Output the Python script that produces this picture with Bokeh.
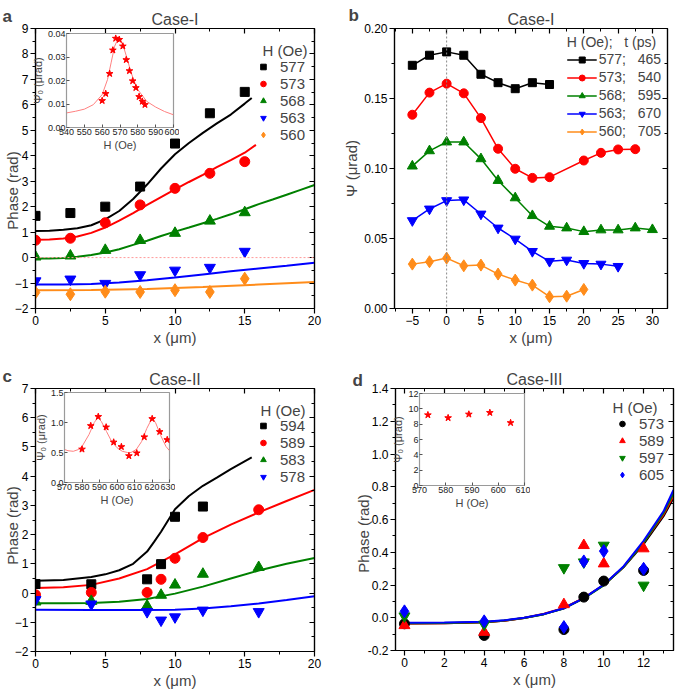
import math
from bokeh.plotting import figure
from bokeh.models import (GridBox, Column, Label, Legend, LegendItem, LinearAxis, Span,
                          FixedTicker, NumeralTickFormatter, Range1d, CustomJSTickFormatter)
from bokeh.embed import file_html
from bokeh.resources import INLINE

FONT = "Liberation Sans"
BLACK, RED, GREEN, BLUE, ORANGE = "#000000", "#FF0000", "#008000", "#0000FF", "#FF8C1A"
PAGE_W, PAGE_H = 675, 692

# ---------------- Panel a (Case-I, phase) ----------------
a_fields = ["577", "573", "568", "563", "560"]
a_x = [0, 2.5, 5, 7.5, 10, 12.5, 15]
a_577 = [1.64, 1.75, 2.0, 2.79, 4.48, 5.67, 6.51]
a_573 = [0.68, 0.76, 1.37, 2.07, 2.72, 3.31, 3.77]
a_568 = [0.03, 0.07, 0.29, 0.68, 0.96, 1.44, 1.77]
a_563 = [-0.92, -0.85, -1.02, -0.68, -0.50, -0.39, 0.24]
a_560 = [-1.37, -1.44, -1.34, -1.35, -1.28, -1.35, -0.83]

a_fit577_x = [0, 1, 2, 3, 4, 5, 6, 7, 8, 9, 10, 11, 12, 13, 14, 15, 15.5]
a_fit577_y = [1.04, 1.05, 1.09, 1.15, 1.27, 1.5, 1.83, 2.3, 2.87, 3.5, 4.06, 4.5, 4.9, 5.27, 5.62, 6.05, 6.27]
a_fit573_x = [0, 1, 2, 3, 4, 5, 6, 7, 8, 9, 10, 11, 12, 13, 14, 15, 15.8]
a_fit573_y = [0.7, 0.71, 0.75, 0.83, 0.97, 1.18, 1.45, 1.75, 2.07, 2.38, 2.68, 2.97, 3.25, 3.55, 3.83, 4.12, 4.43]
a_fit568_x = [0, 1, 2, 3, 4, 5, 6, 7, 8, 9, 10, 11, 12, 13, 14, 15, 16, 17, 18, 19, 20]
a_fit568_y = [-0.04, -0.04, -0.02, 0.03, 0.1, 0.2, 0.33, 0.5, 0.66, 0.85, 1.02, 1.18, 1.35, 1.52, 1.7, 1.9, 2.1, 2.28, 2.47, 2.66, 2.85]
a_fit563_x = [0, 2, 4, 6, 8, 10, 12, 14, 16, 18, 20]
a_fit563_y = [-1.06, -1.06, -1.04, -0.98, -0.89, -0.78, -0.66, -0.54, -0.43, -0.32, -0.2]
a_fit560_x = [0, 4, 8, 12, 16, 20]
a_fit560_y = [-1.28, -1.27, -1.23, -1.16, -1.06, -0.96]

# inset a
ia_H = [560, 562, 564.2, 566, 567.6, 569.6, 571.6, 573.5, 575.3, 577.1, 578.9, 580.7, 582.5, 584]
ia_psi = [0.0114, 0.0144, 0.0229, 0.0329, 0.0379, 0.0374, 0.0346, 0.0288, 0.0241, 0.0198, 0.0169, 0.0131, 0.0111, 0.0097]
ia_fit_H = [540, 545, 550, 555, 560, 563, 565, 567, 569, 570, 572, 574, 576, 578, 580, 585, 590, 595, 600]
ia_fit_psi = [0.0062, 0.0069, 0.0078, 0.0097, 0.014, 0.0204, 0.0275, 0.0346, 0.0379, 0.0377, 0.0343, 0.0293, 0.0239, 0.0196, 0.0161, 0.0111, 0.0087, 0.0068, 0.0054]

# ---------------- Panel b (Case-I, amplitude) ----------------
b_labels = ["577;\u00a0\u00a0\u00a0465", "573;\u00a0\u00a0\u00a0540", "568;\u00a0\u00a0\u00a0595",
            "563;\u00a0\u00a0\u00a0670", "560;\u00a0\u00a0\u00a0705"]
b_577_x = [-5, -2.5, 0, 2.5, 5, 7.5, 10, 12.5, 15]
b_577_y = [0.1737, 0.1809, 0.1833, 0.1809, 0.1673, 0.1613, 0.157, 0.1613, 0.160]
b_573_x = [-5, -2.5, 0, 2.5, 5, 7.5, 10, 12.5, 15, 20, 22.5, 25, 27.5]
b_573_y = [0.1384, 0.1542, 0.1606, 0.1537, 0.136, 0.1141, 0.0998, 0.0933, 0.0938, 0.1057, 0.1112, 0.1136, 0.1138]
b_568_x = [-5, -2.5, 0, 2.5, 5, 7.5, 10, 12.5, 15, 17.5, 20, 22.5, 25, 27.5, 30]
b_568_y = [0.1017, 0.1126, 0.1189, 0.1189, 0.1069, 0.0914, 0.079, 0.0663, 0.0587, 0.0575, 0.0549, 0.0561, 0.0561, 0.0575, 0.0563]
b_563_x = [-5, -2.5, 0, 2.5, 5, 7.5, 10, 12.5, 15, 17.5, 20, 22.5, 25]
b_563_y = [0.0628, 0.0711, 0.0771, 0.0776, 0.0675, 0.0575, 0.0496, 0.0408, 0.0337, 0.0346, 0.0322, 0.0317, 0.0301]
b_560_x = [-5, -2.5, 0, 2.5, 5, 7.5, 10, 12.5, 15, 17.5, 20]
b_560_y = [0.0317, 0.0334, 0.036, 0.0305, 0.031, 0.0246, 0.0203, 0.0167, 0.0084, 0.0088, 0.0136]

# ---------------- Panel c (Case-II, phase) ----------------
c_fields = ["594", "589", "583", "578"]
c_594_x = [0, 4, 8, 9, 10, 12]
c_594_y = [0.31, 0.30, 0.47, 0.99, 2.61, 2.96]
c_x = [0, 4, 8, 9, 10, 12, 16]
c_589 = [-0.06, 0.02, 0.02, 0.47, 1.19, 1.90, 2.85]
c_583 = [-0.30, -0.28, -0.44, -0.07, 0.28, 0.65, 0.88]
c_578 = [-0.23, -0.38, -0.64, -0.93, -0.82, -0.59, -0.64]

c_fit594_x = [0, 2, 4, 5, 6, 7, 8, 8.5, 9, 10, 11, 12, 13, 14, 15.5]
c_fit594_y = [0.42, 0.45, 0.55, 0.64, 0.78, 1.0, 1.42, 1.75, 2.1, 2.87, 3.32, 3.67, 3.95, 4.24, 4.64]
c_fit589_x = [0, 2, 4, 6, 8, 10, 12, 14, 16, 18, 20]
c_fit589_y = [0.17, 0.2, 0.28, 0.5, 0.82, 1.32, 1.88, 2.34, 2.76, 3.15, 3.53]
c_fit583_x = [0, 2, 4, 6, 8, 10, 12, 14, 16, 18, 20]
c_fit583_y = [-0.35, -0.35, -0.34, -0.3, -0.2, -0.02, 0.22, 0.5, 0.77, 1.0, 1.2]
c_fit578_x = [0, 4, 8, 10, 12, 14, 16, 18, 20]
c_fit578_y = [-0.57, -0.58, -0.58, -0.57, -0.53, -0.45, -0.36, -0.24, -0.11]

# inset c
ic_H = [580, 585, 589.3, 593.8, 598.1, 602.5, 606.8, 611.3, 615.6, 620.1, 624.4, 628.7]
ic_psi = [0.554, 0.945, 1.097, 0.922, 0.671, 0.595, 0.443, 0.49, 0.758, 1.062, 0.846, 0.712]
ic_fit_H = [570, 572, 575, 578, 580, 584, 587, 589, 591, 594, 597, 600, 603, 606, 608, 611, 614, 617, 620, 622, 625, 628, 630]
ic_fit_psi = [0.55, 0.53, 0.52, 0.55, 0.6, 0.8, 1.0, 1.08, 1.02, 0.85, 0.68, 0.58, 0.52, 0.5, 0.5, 0.55, 0.68, 0.9, 1.07, 1.0, 0.78, 0.6, 0.53]

# ---------------- Panel d (Case-III, phase) ----------------
d_fields = ["573", "589", "597", "605"]
d_x = [0, 4, 8, 9, 10, 12]
d_573 = [-0.037, -0.108, -0.072, 0.126, 0.224, 0.289]
d_589 = [-0.047, -0.088, 0.081, 0.442, 0.33, 0.422]
d_597 = [0.01, -0.04, 0.305, 0.34, 0.442, 0.198]
d_605 = [0.039, -0.022, -0.057, 0.344, 0.407, 0.299]
d_fit_x = [0, 2, 4, 5, 6, 7, 8, 9, 10, 11, 12, 13, 13.5]
d_fit573 = [-0.035, -0.033, -0.028, -0.018, -0.002, 0.022, 0.058, 0.12, 0.2, 0.31, 0.45, 0.62, 0.73]
d_fit589 = [-0.035, -0.033, -0.028, -0.018, -0.002, 0.024, 0.06, 0.121, 0.2, 0.31, 0.46, 0.63, 0.745]
d_fit597 = [-0.033, -0.032, -0.027, -0.017, -0.002, 0.022, 0.057, 0.118, 0.198, 0.31, 0.46, 0.64, 0.76]
d_fit605 = [-0.03, -0.029, -0.025, -0.016, 0.0, 0.023, 0.058, 0.12, 0.202, 0.315, 0.47, 0.65, 0.78]

# inset d
id_H = [573.2, 580.9, 588.8, 596.8, 604.7]
id_psi = [9.2, 8.82, 9.29, 9.5, 8.18]

BLANK = CustomJSTickFormatter(code="return ''")


def style_main(p, xt, xm, yt, ym, yfmt=None):
    p.outline_line_color = "black"
    p.outline_line_width = 1.2
    p.xgrid.visible = False
    p.ygrid.visible = False
    p.background_fill_color = "white"
    p.border_fill_color = "white"
    for ax, t, m in ((p.xaxis[0], xt, xm), (p.yaxis[0], yt, ym)):
        ax.ticker = FixedTicker(ticks=t, minor_ticks=m)
        ax.axis_line_color = "black"
        ax.axis_line_width = 1.2
        ax.major_tick_line_width = 1.2
        ax.minor_tick_line_width = 1.0
        ax.major_tick_out = 5
        ax.major_tick_in = 0
        ax.minor_tick_out = 3
        ax.minor_tick_in = 0
        ax.major_label_text_font = FONT
        ax.major_label_text_font_size = "12px"
        ax.major_label_text_color = "black"
        ax.major_label_standoff = 2
        ax.axis_label_text_font = FONT
        ax.axis_label_text_font_size = "15px"
        ax.axis_label_text_font_style = "normal"
        ax.axis_label_standoff = 1
    if yfmt:
        p.yaxis[0].formatter = NumeralTickFormatter(format=yfmt)
    for place, t, m in (("right", yt, ym), ("above", xt, xm)):
        ax = LinearAxis(ticker=FixedTicker(ticks=t, minor_ticks=m), formatter=BLANK,
                        major_tick_in=5, major_tick_out=0, minor_tick_in=3, minor_tick_out=0,
                        major_label_standoff=0,
                        axis_line_color="black", axis_line_width=1.2,
                        major_tick_line_width=1.2)
        p.add_layout(ax, place)
    p.title.text_font = FONT
    p.title.text_font_size = "16px"
    p.title.text_font_style = "normal"
    p.title.align = "center"
    p.title.standoff = 2


def style_inset(p, xt, yt, yfmt, xlabel, ylabel):
    p.outline_line_color = "#9a9a9a"
    p.outline_line_width = 1.2
    p.xgrid.visible = False
    p.ygrid.visible = False
    p.background_fill_color = "white"
    p.border_fill_alpha = 0
    for ax, t in ((p.xaxis[0], xt), (p.yaxis[0], yt)):
        ax.ticker = FixedTicker(ticks=t, minor_ticks=[])
        ax.axis_line_color = "#9a9a9a"
        ax.major_tick_line_color = "#555555"
        ax.major_tick_in = 3
        ax.major_tick_out = 0
        ax.major_label_text_font = FONT
        ax.major_label_text_font_size = "9px"
        ax.major_label_text_color = "#222222"
        ax.major_label_standoff = 1
        ax.axis_label_text_font = FONT
        ax.axis_label_text_font_size = "11px"
        ax.axis_label_text_font_style = "normal"
        ax.axis_label_standoff = 1
    p.xaxis[0].axis_label = xlabel
    p.yaxis[0].axis_label = ylabel
    p.yaxis[0].formatter = NumeralTickFormatter(format=yfmt)


def make_legend(items, title, fs="15px"):
    return Legend(items=items, title=title, location="top_right",
                  border_line_alpha=0, background_fill_alpha=0,
                  label_text_font=FONT, label_text_font_size=fs,
                  title_text_font=FONT, title_text_font_size=fs, title_text_font_style="normal",
                  title_standoff=1, label_height=15, glyph_height=15, glyph_width=14,
                  spacing=0, label_standoff=10, padding=2, margin=7)


def make_inset(w, h, xr, yr, bl, bt):
    return figure(width=w, height=h, x_range=xr, y_range=yr,
                  toolbar_location=None, output_backend="svg",
                  min_border_left=bl, min_border_right=6, min_border_top=bt, min_border_bottom=26)


# the legend title of a, c, d is drawn in the overlay (right-aligned over the labels)
HOLD = "\u00a0"

# ---------------- Figure a ----------------
fa = figure(width=337, height=352, x_range=Range1d(0, 20), y_range=Range1d(-2, 9),
            title="Case-I", toolbar_location=None, output_backend="svg",
            min_border_left=35, min_border_right=23, min_border_top=28, min_border_bottom=44,
            x_axis_label="x (μm)")
style_main(fa, [0, 5, 10, 15, 20], [2.5, 7.5, 12.5, 17.5], list(range(-2, 10)),
           [v + 0.5 for v in range(-2, 9)])
fa.add_layout(Span(location=0, dimension="width", line_color="#FF9999", line_dash="2 2", line_width=1))
fa.line(a_fit577_x, a_fit577_y, line_color=BLACK, line_width=2)
fa.line(a_fit573_x, a_fit573_y, line_color=RED, line_width=2)
fa.line(a_fit568_x, a_fit568_y, line_color=GREEN, line_width=2)
fa.line(a_fit563_x, a_fit563_y, line_color=BLUE, line_width=2)
fa.line(a_fit560_x, a_fit560_y, line_color=ORANGE, line_width=2)
ra = [
    fa.scatter(a_x, a_577, marker="square", size=9, color=BLACK),
    fa.scatter(a_x, a_573, marker="circle", size=10, color=RED),
    fa.scatter(a_x, a_568, marker="triangle", size=11, color=GREEN),
    fa.scatter(a_x, a_563, marker="inverted_triangle", size=11, color=BLUE),
    fa.scatter(a_x, a_560, marker="diamond", size=13, color=ORANGE),
]
la = make_legend([LegendItem(label=l, renderers=[r]) for l, r in zip(a_fields, ra)], HOLD)
la.title_standoff = 4
fa.add_layout(la)

ia = make_inset(179, 153, Range1d(540, 600), Range1d(0, 0.04), 66, 33)
style_inset(ia, [540, 550, 560, 570, 580, 590, 600], [0, 0.01, 0.02, 0.03, 0.04], "0.00",
            "H (Oe)", "Ψ₀ (μrad)")
ia.line(ia_fit_H, ia_fit_psi, line_color="#FF8080", line_width=1)
ia.scatter(ia_H, ia_psi, marker="star", size=7, color=RED)

# ---------------- Figure b ----------------
fb = figure(width=338, height=352, x_range=Range1d(-7.6, 32.2), y_range=Range1d(0, 0.2),
            title="Case-I", toolbar_location=None, output_backend="svg",
            min_border_left=57, min_border_right=8, min_border_top=28, min_border_bottom=44,
            x_axis_label="x (μm)", y_axis_label="Ψ (μrad)")
style_main(fb, [-5, 0, 5, 10, 15, 20, 25, 30], [-7.5, -2.5, 2.5, 7.5, 12.5, 17.5, 22.5, 27.5],
           [0, 0.05, 0.1, 0.15, 0.2], [0.025, 0.075, 0.125, 0.175], yfmt="0.00")
fb.add_layout(Span(location=0, dimension="height", line_color="#888888", line_dash="2 2", line_width=1))
rb = []
for xs, ys, col, mk, sz in ((b_577_x, b_577_y, BLACK, "square", 8),
                             (b_573_x, b_573_y, RED, "circle", 9),
                             (b_568_x, b_568_y, GREEN, "triangle", 10),
                             (b_563_x, b_563_y, BLUE, "inverted_triangle", 10),
                             (b_560_x, b_560_y, ORANGE, "diamond", 12)):
    l = fb.line(xs, ys, line_color=col, line_width=1.5)
    s = fb.scatter(xs, ys, marker=mk, size=sz, color=col)
    rb.append([l, s])
lb = make_legend([LegendItem(label=t, renderers=r) for t, r in zip(b_labels, rb)],
                 "H (Oe);\u00a0\u00a0\u00a0t (ps)", fs="14px")
lb.glyph_width = 30
lb.label_standoff = 2
lb.spacing = 2
lb.margin = 4
fb.add_layout(lb)

# ---------------- Figure c ----------------
fc = figure(width=337, height=340, x_range=Range1d(0, 20), y_range=Range1d(-2, 7),
            title="Case-II", toolbar_location=None, output_backend="svg",
            min_border_left=35, min_border_right=23, min_border_top=36, min_border_bottom=41,
            x_axis_label="x (μm)")
style_main(fc, [0, 5, 10, 15, 20], [2.5, 7.5, 12.5, 17.5], list(range(-2, 8)),
           [v + 0.5 for v in range(-2, 7)])
fc.line(c_fit594_x, c_fit594_y, line_color=BLACK, line_width=2)
fc.line(c_fit589_x, c_fit589_y, line_color=RED, line_width=2)
fc.line(c_fit583_x, c_fit583_y, line_color=GREEN, line_width=2)
fc.line(c_fit578_x, c_fit578_y, line_color=BLUE, line_width=2)
rc = [
    fc.scatter(c_594_x, c_594_y, marker="square", size=9, color=BLACK),
    fc.scatter(c_x, c_589, marker="circle", size=10, color=RED),
    fc.scatter(c_x, c_583, marker="triangle", size=11, color=GREEN),
    fc.scatter(c_x, c_578, marker="inverted_triangle", size=11, color=BLUE),
]
lc = make_legend([LegendItem(label=l, renderers=[r]) for l, r in zip(c_fields, rc)], HOLD)
lc.title_standoff = 3
fc.add_layout(lc)

ic = make_inset(175, 156, Range1d(570, 630), Range1d(0, 1.5), 64, 40)
style_inset(ic, [570, 580, 590, 600, 610, 620, 630], [0, 0.5, 1.0, 1.5], "0.0",
            "H (Oe)", "Ψ₀ (μrad)")
ic.line(ic_fit_H, ic_fit_psi, line_color="#FF8080", line_width=1)
ic.scatter(ic_H, ic_psi, marker="star", size=7, color=RED)

# ---------------- Figure d ----------------
fd = figure(width=338, height=340, x_range=Range1d(-0.45, 13.5), y_range=Range1d(-0.2, 1.4),
            title="Case-III", toolbar_location=None, output_backend="svg",
            min_border_left=58, min_border_right=2, min_border_top=36, min_border_bottom=42,
            x_axis_label="x (μm)")
style_main(fd, [0, 2, 4, 6, 8, 10, 12], [1, 3, 5, 7, 9, 11, 13],
           [-0.2, 0, 0.2, 0.4, 0.6, 0.8, 1.0, 1.2, 1.4],
           [-0.1, 0.1, 0.3, 0.5, 0.7, 0.9, 1.1, 1.3], yfmt="0.0")
fd.line(d_fit_x, d_fit573, line_color=BLACK, line_width=2)
fd.line(d_fit_x, d_fit589, line_color=RED, line_width=2)
fd.line(d_fit_x, d_fit597, line_color=GREEN, line_width=2)
fd.line(d_fit_x, d_fit605, line_color=BLUE, line_width=2)
rd = [
    fd.scatter(d_x, d_573, marker="circle", size=10, color=BLACK),
    fd.scatter(d_x, d_589, marker="triangle", size=11, color=RED),
    fd.scatter(d_x, d_597, marker="inverted_triangle", size=11, color=GREEN),
    fd.scatter(d_x, d_605, marker="diamond", size=13, color=BLUE),
]
fd.add_layout(make_legend([LegendItem(label=l, renderers=[r]) for l, r in zip(d_fields, rd)], HOLD))

idd = make_inset(193, 159, Range1d(570, 610), Range1d(0, 12), 82, 41)
style_inset(idd, [570, 580, 590, 600, 610], [0, 2, 4, 6, 8, 10, 12], "0",
            "H (Oe)", "Ψ₀ (μrad)")
idd.scatter(id_H, id_psi, marker="star", size=7, color=RED)

# ---------------- Transparent overlay for panel letters, y labels, legend titles ----------------
ov = figure(width=PAGE_W, height=PAGE_H, x_range=Range1d(0, PAGE_W), y_range=Range1d(PAGE_H, 0),
            toolbar_location=None, output_backend="svg", x_axis_type=None, y_axis_type=None,
            min_border=0)
ov.xgrid.visible = False
ov.ygrid.visible = False
ov.outline_line_color = None
ov.background_fill_alpha = 0
ov.border_fill_alpha = 0
for txt, x, y in (("a", 2, 16), ("b", 348, 15), ("c", 2, 376), ("d", 352, 380)):
    ov.add_layout(Label(x=x, y=y, text=txt, text_font=FONT, text_font_style="bold",
                        text_font_size="17px", text_baseline="alphabetic"))
for x, y in ((12, 190), (12, 525), (363, 533)):
    ov.add_layout(Label(x=x, y=y, text="Phase (rad)", text_font=FONT, text_font_size="15px",
                        angle=math.pi / 2, text_align="center", text_baseline="middle"))
for x, y in ((262, 50), (260, 410), (612, 407)):
    ov.add_layout(Label(x=x, y=y, text="H (Oe)", text_font=FONT, text_font_size="15px",
                        text_align="left", text_baseline="middle"))

grid = GridBox(children=[(Column(fa), 0, 0), (Column(fb), 0, 1), (Column(fc), 1, 0), (Column(fd), 1, 1),
                         (Column(ia), 0, 0), (Column(ic), 1, 0), (Column(idd), 1, 1),
                         (Column(ov), 0, 0, 2, 2)],
               spacing=0)

open("out.html", "w").write(file_html(grid, INLINE))
